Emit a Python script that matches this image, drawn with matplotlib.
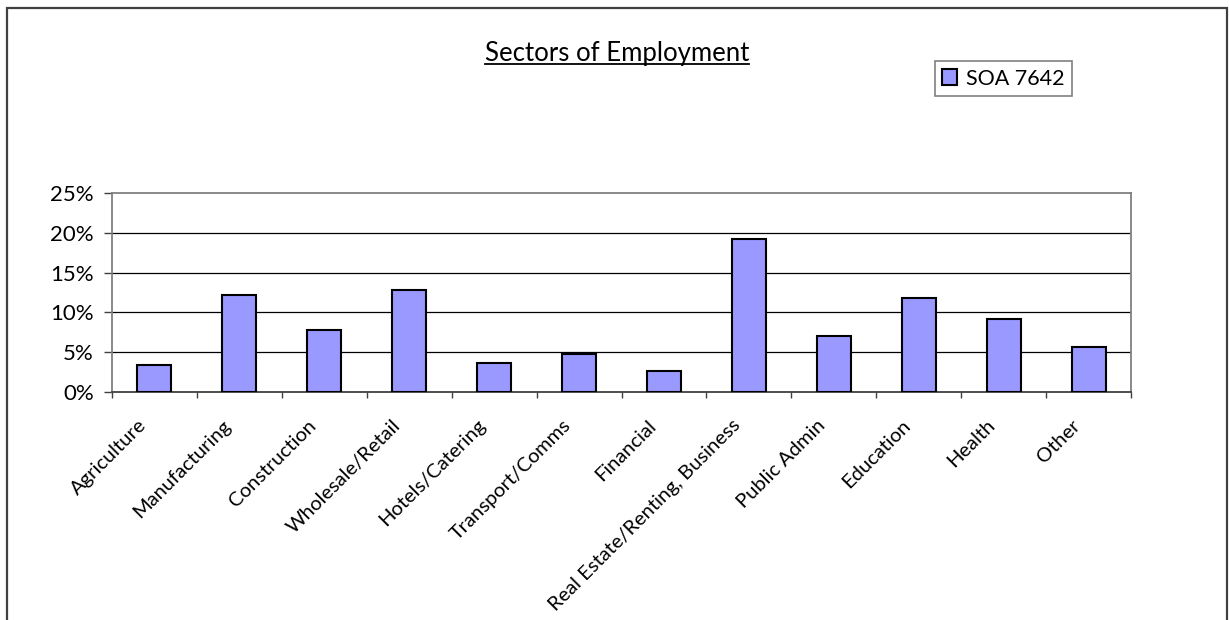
"""
Sectors of Employment bar chart (SOA 7642), Excel-style.
Output: out.png
"""

import numpy as np
import matplotlib
matplotlib.use("Agg")
import matplotlib.pyplot as plt
from matplotlib.patches import Rectangle
from matplotlib.lines import Line2D
from matplotlib.ticker import FixedLocator, PercentFormatter
from matplotlib.transforms import ScaledTranslation

# values (percent of employed residents)
sectors = ["Agriculture", "Manufacturing", "Construction", "Wholesale/Retail",
           "Hotels/Catering", "Transport/Comms", "Financial",
           "Real Estate/Renting, Business", "Public Admin", "Education",
           "Health", "Other"]
soa_7642 = [3.4, 12.2, 7.8, 12.8, 3.6, 4.8, 2.6, 19.2, 7.0, 11.8, 9.2, 5.6]
y_ticks = [0, 5, 10, 15, 20, 25]
series_name = "SOA 7642"
title = "Sectors of Employment"

W, H, DPI = 1229, 620, 100
BAR_COLOR = "#9999FF"
FONT = ["Lato", "DejaVu Sans"]

plt.rcParams["font.family"] = FONT

fig = plt.figure(figsize=(W / DPI, H / DPI), dpi=DPI)
# plot area in pixel coords from the reference
left, right, top, bottom = 112, 1131, 193, 392
ax = fig.add_axes([left / W, 1 - bottom / H, (right - left) / W, (bottom - top) / H])

x = np.arange(len(sectors))
ax.bar(x, soa_7642, width=0.4, color=BAR_COLOR, edgecolor="black",
       linewidth=1.5, zorder=3, label=series_name)

ax.set_xlim(-0.5, len(sectors) - 0.5)
ax.set_ylim(0, 25)

# gridlines (black) except top which is the gray plot border
for v in y_ticks[1:-1]:
    ax.axhline(v, color="black", linewidth=0.9, zorder=1)

for side in ["top", "right", "left", "bottom"]:
    ax.spines[side].set_color("#808080")
    ax.spines[side].set_linewidth(1.3)
ax.spines["bottom"].set_color("#404040")

ax.yaxis.set_major_locator(FixedLocator(y_ticks))
ax.yaxis.set_major_formatter(PercentFormatter(decimals=0))
ax.tick_params(axis="y", direction="out", length=6, width=1, color="#404040",
               pad=7, labelsize=16)

# category labels at centres, tick marks at boundaries
ax.set_xticks(x)
ax.set_xticklabels(sectors, rotation=45, ha="right", va="center",
                   rotation_mode="anchor")
ax.tick_params(axis="x", which="major", length=0, pad=22, labelsize=14.5)
shift = ScaledTranslation(-11 / DPI, 0, fig.dpi_scale_trans)
for lab in ax.get_xticklabels():
    lab.set_transform(lab.get_transform() + shift)
ax.set_xticks(np.arange(len(sectors) + 1) - 0.5, minor=True)
ax.tick_params(axis="x", which="minor", direction="out", length=4.5,
               width=1, color="#404040")

# title with underline
t = fig.text(617 / W, 1 - 53 / H, title, ha="center", va="center", fontsize=18.5)
fig.canvas.draw()
bb = t.get_window_extent()
uy = bb.y0 + 2
fig.add_artist(Line2D([bb.x0 / W, bb.x1 / W], [uy / H, uy / H],
                      color="black", linewidth=1.3))

# legend box
leg = fig.legend(loc="upper right", bbox_to_anchor=(1072 / W, 1 - 61 / H),
                 borderaxespad=0, fancybox=False, shadow=False,
                 edgecolor="#808080", framealpha=1, fontsize=15.5,
                 handlelength=0.7, handleheight=0.7, handletextpad=0.4,
                 borderpad=0.35)
leg.get_frame().set_linewidth(1.2)

# outer chart border
fig.patches.append(Rectangle((7 / W, -0.01), (1227 - 7) / W, 1 - 8 / H + 0.01,
                             transform=fig.transFigure, fill=False,
                             edgecolor="#404040", linewidth=1.6))

fig.savefig("out.png", dpi=DPI)
